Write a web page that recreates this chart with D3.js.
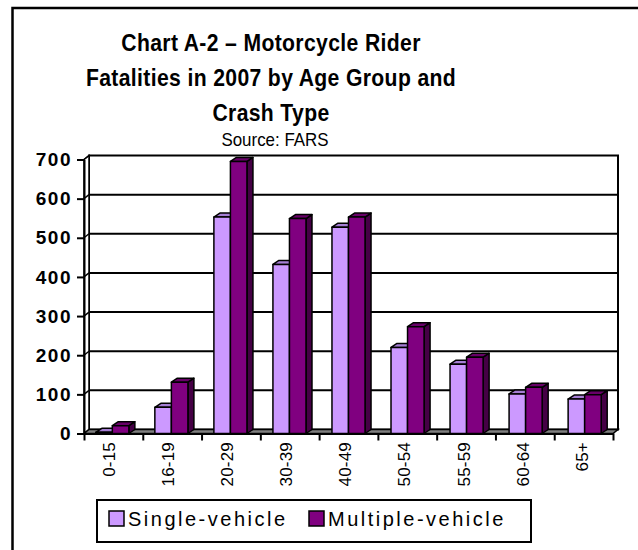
<!DOCTYPE html>
<html>
<head>
<meta charset="utf-8">
<script src="https://cdn.jsdelivr.net/npm/d3@7"></script>
<style>
    body { margin: 0; background: #fff; }
    svg text { font-family: "Liberation Sans", Arial, sans-serif; fill: #000; }
</style>
</head>
<body>
<div id="main"></div>
<script>
// Data
const ageGroups = ["0-15", "16-19", "20-29", "30-39", "40-49", "50-54", "55-59", "60-64", "65+"];
const singleVehicle = [3, 67, 553, 432, 527, 220, 177, 101, 88];
const multipleVehicle = [20, 131, 695, 549, 553, 273, 195, 118, 99];
const seriesNames = ["Single-vehicle", "Multiple-vehicle"];
const yTicks = [0, 100, 200, 300, 400, 500, 600, 700];
const titleLines = ["Chart A-2 \u2013 Motorcycle Rider", "Fatalities in 2007 by Age Group and", "Crash Type"];
const subtitle = "Source: FARS";

function createChart() {
    d3.select("#main svg").remove();

    const width = 638, height = 550;
    const svg = d3.select("#main").append("svg")
        .attr("width", width)
        .attr("height", height);

    // outer frame (runs off the right and bottom edge)
    svg.append("rect")
        .attr("x", 12.5).attr("y", 8)
        .attr("width", 660).attr("height", 580)
        .attr("fill", "none")
        .attr("stroke", "#000")
        .attr("stroke-width", 2.5);

    // title - the original glyphs are a bit tall and narrow
    const title = svg.append("g").attr("text-anchor", "middle");
    title.selectAll("text.t")
        .data(titleLines)
        .enter().append("text")
        .attr("class", "t")
        .attr("transform", (d, i) => `translate(271,${51 + i * 35}) scale(0.9,1)`)
        .attr("font-size", 23.5)
        .attr("font-weight", "bold")
        .attr("letter-spacing", 0.4)
        .text(d => d);
    title.append("text")
        .attr("transform", "translate(275,146) scale(0.94,1)")
        .attr("font-size", 18)
        .text(subtitle);

    // plot geometry (front plane + depth offset for the 3D look)
    const left = 84, right = 613;
    const dx = 5, dy = -4;
    const y = d3.scaleLinear().domain([0, 700]).range([433.5, 159.5]);
    const xEdge = d3.scaleLinear().domain([0, ageGroups.length]).range([left, right]);
    const x = d3.scaleBand().domain(ageGroups).range([left, right])
        .paddingInner(0.44).paddingOuter(0.2);
    const xs = d3.scaleBand().domain(seriesNames).range([0, x.bandwidth()]);

    const poly = pts => pts.map(p => p.join(",")).join(" ");

    // back wall
    svg.append("rect")
        .attr("x", left + dx).attr("y", y(700) + dy)
        .attr("width", right - left).attr("height", y(0) - y(700))
        .attr("fill", "#fff")
        .attr("stroke", "#000")
        .attr("stroke-width", 2);

    // gridlines on back wall
    svg.append("g").selectAll("line")
        .data(yTicks.slice(1, -1))
        .enter().append("line")
        .attr("x1", left + dx).attr("x2", right + dx)
        .attr("y1", d => y(d) + dy).attr("y2", d => y(d) + dy)
        .attr("stroke", "#000")
        .attr("stroke-width", 2);

    // side wall
    svg.append("polygon")
        .attr("points", poly([[left, y(0)], [left, y(700)], [left + dx, y(700) + dy], [left + dx, y(0) + dy]]))
        .attr("fill", "#fff")
        .attr("stroke", "#000")
        .attr("stroke-width", 1.5);
    svg.append("g").selectAll("line")
        .data(yTicks.slice(1))
        .enter().append("line")
        .attr("x1", left).attr("x2", left + dx)
        .attr("y1", d => y(d)).attr("y2", d => y(d) + dy)
        .attr("stroke", "#000")
        .attr("stroke-width", 1.5);

    // floor
    svg.append("polygon")
        .attr("points", poly([[left, y(0)], [right, y(0)], [right + dx, y(0) + dy], [left + dx, y(0) + dy]]))
        .attr("fill", "#808080")
        .attr("stroke", "#000")
        .attr("stroke-width", 1.5);

    // y axis
    const yAxis = svg.append("g")
        .attr("transform", `translate(${left},0)`)
        .call(d3.axisLeft(y).tickValues(yTicks).tickSize(7).tickSizeOuter(0).tickPadding(5));
    yAxis.selectAll("path, line").attr("stroke", "#000").attr("stroke-width", 2);
    yAxis.selectAll("text")
        .attr("font-size", 19)
        .attr("font-weight", "bold")
        .attr("letter-spacing", 1.5)
        .attr("fill", "#000");

    // x axis ticks at category boundaries
    const xAxis = svg.append("g")
        .attr("transform", `translate(0,${y(0)})`)
        .call(d3.axisBottom(xEdge).tickValues(d3.range(ageGroups.length + 1)).tickSize(7).tickSizeOuter(0).tickFormat(""));
    xAxis.selectAll("path, line").attr("stroke", "#000").attr("stroke-width", 2);

    // category labels, rotated
    svg.append("g").selectAll("text")
        .data(ageGroups)
        .enter().append("text")
        .attr("transform", d => `translate(${x(d) + x.bandwidth() / 2 - 3},442) rotate(-90)`)
        .attr("text-anchor", "end")
        .attr("dy", "0.35em")
        .attr("font-size", 17)
        .attr("letter-spacing", 0.2)
        .text(d => d);

    // bars
    const colors = {
        "Single-vehicle": { front: "#CC99FF", top: "#A57ED4", side: "#8A66B0" },
        "Multiple-vehicle": { front: "#800080", top: "#680068", side: "#450045" }
    };
    const bars = [];
    ageGroups.forEach((g, i) => {
        bars.push({ group: g, series: seriesNames[0], value: singleVehicle[i] });
        bars.push({ group: g, series: seriesNames[1], value: multipleVehicle[i] });
    });
    const bdx = 6, bdy = -4;
    const barG = svg.append("g").selectAll("g")
        .data(bars)
        .enter().append("g")
        .attr("stroke", "#000")
        .attr("stroke-width", 1.5)
        .attr("stroke-linejoin", "round");
    barG.each(function(d) {
        const g = d3.select(this);
        const x0 = x(d.group) + xs(d.series);
        const x1 = x0 + xs.bandwidth();
        const yt = y(d.value), yb = y(0);
        const c = colors[d.series];
        g.append("polygon")
            .attr("points", poly([[x1, yb], [x1 + bdx, yb + bdy], [x1 + bdx, yt + bdy], [x1, yt]]))
            .attr("fill", c.side);
        g.append("polygon")
            .attr("points", poly([[x0, yt], [x1, yt], [x1 + bdx, yt + bdy], [x0 + bdx, yt + bdy]]))
            .attr("fill", c.top);
        g.append("rect")
            .attr("x", x0).attr("y", yt)
            .attr("width", x1 - x0).attr("height", yb - yt)
            .attr("fill", c.front);
    });

    // legend
    const legend = svg.append("g");
    legend.append("rect")
        .attr("x", 97).attr("y", 500)
        .attr("width", 434).attr("height", 42)
        .attr("fill", "#fff")
        .attr("stroke", "#000")
        .attr("stroke-width", 2);
    const item = legend.selectAll("g.item")
        .data(seriesNames)
        .enter().append("g")
        .attr("class", "item")
        .attr("transform", (d, i) => `translate(${109 + i * 200},511)`);
    item.append("rect")
        .attr("width", 15).attr("height", 15)
        .attr("fill", d => colors[d].front)
        .attr("stroke", "#000")
        .attr("stroke-width", 1.5);
    item.append("text")
        .attr("x", 19)
        .attr("y", 15)
        .attr("font-size", 20)
        .attr("letter-spacing", 2.5)
        .text(d => d);
}

document.addEventListener("DOMContentLoaded", function() {
    createChart();
});
</script>
</body>
</html>
